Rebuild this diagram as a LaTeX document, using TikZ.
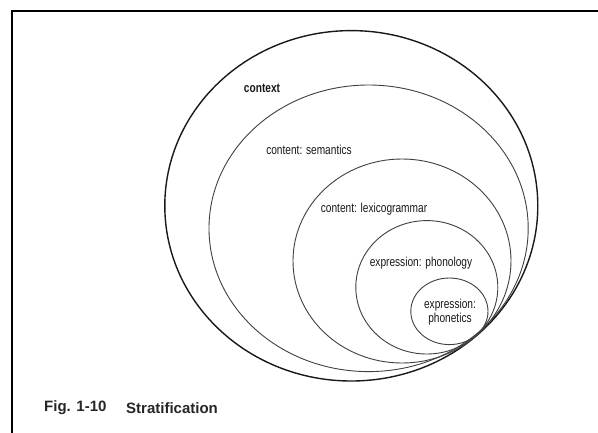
\documentclass[tikz,border=0pt]{standalone}
\usepackage{fontspec}
\setmainfont{Liberation Sans}
\newfontfamily\labfont[FakeStretch=0.78]{Liberation Sans}
\begin{document}
\begin{tikzpicture}[x=1pt,y=-1pt,
  frameline/.style={line width=2pt,black},
  outerring/.style={line width=1.4pt,black!90},
  ring/.style={line width=0.9pt,black!75},
  lab/.style={inner sep=0pt,text=black!90,font=\labfont\fontsize{13}{13.5}\selectfont,align=center},
  captext/.style={inner sep=0pt,anchor=west,text=black!85,font=\bfseries\fontsize{15}{16}\selectfont}]
\useasboundingbox (0,0) rectangle (598,432);
\fill[white] (0,0) rectangle (598,432);
% frame
\coordinate (fbl) at (12,433);
\coordinate (ftl) at (12,11);
\coordinate (ftr) at (599,11);
\draw[frameline] (fbl) -- (ftl) -- (ftr);
% strata
\draw[outerring] (351.3,205.8) ellipse [x radius=186.5, y radius=175.2];
\draw[ring] (368.6,228.3) ellipse [x radius=159.6, y radius=143.3];
\draw[ring] (402,261) ellipse [x radius=109, y radius=102];
\draw[ring] (426.8,287.3) ellipse [x radius=71, y radius=66.7];
\draw[ring] (449.4,311.3) ellipse [x radius=38.6, y radius=33.3];
% labels
\node[lab,font=\labfont\bfseries\fontsize{13}{13.5}\selectfont] (context) at (262,88) {context};
\node[lab] (sem) at (309,150) {content: semantics};
\node[lab] (lex) at (374,209) {content: lexicogrammar};
\node[lab] (phon) at (421,263) {expression: phonology};
\node[lab] (phonet) at (450,312) {expression:\\phonetics};
% caption
\node[captext] (fig) at (44,408) {Fig. 1-10};
\node[captext] (strat) at (126,408) {Stratification};
\end{tikzpicture}
\end{document}
